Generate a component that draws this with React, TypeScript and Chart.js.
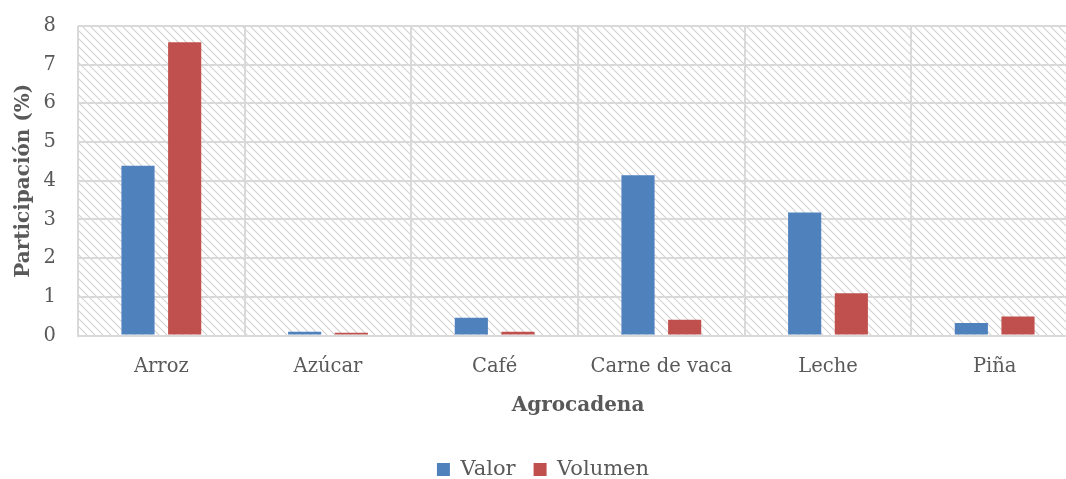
import React, { useEffect, useRef } from "react";
import { Chart, registerables } from "chart.js";

Chart.register(...registerables);

const categories = ["Arroz", "Azúcar", "Café", "Carne de vaca", "Leche", "Piña"];
const valorValues = [4.39, 0.1, 0.46, 4.14, 3.18, 0.32];
const volumenValues = [7.58, 0.07, 0.1, 0.41, 1.09, 0.49];
const seriesNames = ["Valor", "Volumen"];
const yTitle = "Participación (%)";
const xTitle = "Agrocadena";

const FONT = "'DejaVu Serif', serif";
const TEXT = "#595959";
const GRID = "#d9d9d9";

function makeHatch(): CanvasPattern | string {
  const c = document.createElement("canvas");
  c.width = 8;
  c.height = 8;
  const g = c.getContext("2d");
  if (!g) return "#fff";
  g.fillStyle = "#ffffff";
  g.fillRect(0, 0, 8, 8);
  g.strokeStyle = "#d3d3d3";
  g.lineWidth = 1.2;
  g.beginPath();
  g.moveTo(-2, -2);
  g.lineTo(10, 10);
  g.moveTo(-10, -2);
  g.lineTo(2, 10);
  g.moveTo(6, -2);
  g.lineTo(18, 10);
  g.stroke();
  const p = g.createPattern(c, "repeat");
  return p || "#fff";
}

const hatchPlugin = {
  id: "hatchBg",
  beforeDraw(chart: any) {
    const { ctx, chartArea } = chart;
    if (!chartArea) return;
    ctx.save();
    ctx.fillStyle = makeHatch();
    ctx.fillRect(chartArea.left, chartArea.top, chartArea.right - chartArea.left, chartArea.bottom - chartArea.top);
    ctx.restore();
  },
};

export default function App() {
  const ref = useRef<HTMLCanvasElement | null>(null);
  useEffect(() => {
    if (!ref.current) return;
    const chart = new Chart(ref.current, {
      type: "bar",
      data: {
        labels: categories,
        datasets: [
          {
            label: seriesNames[0],
            data: valorValues,
            backgroundColor: "#4f81bd",
            categoryPercentage: 0.56,
            barPercentage: 0.71,
          },
          {
            label: seriesNames[1],
            data: volumenValues,
            backgroundColor: "#c0504d",
            categoryPercentage: 0.56,
            barPercentage: 0.71,
          },
        ],
      },
      options: {
        responsive: false,
        animation: false,
        layout: { padding: { left: 8, top: 26, right: 10, bottom: -11 } },
        plugins: {
          tooltip: { enabled: false },
          legend: {
            position: "bottom",
            labels: {
              boxWidth: 13,
              boxHeight: 13,
              padding: 18,
              color: TEXT,
              font: { family: FONT, size: 21 },
            },
          },
        },
        scales: {
          x: {
            afterFit: (s: any) => {
              s.height = 105.5;
              s.paddingLeft = 0;
              s.paddingRight = 0;
            },
            grid: { color: GRID, lineWidth: 2, drawTicks: false, offset: true },
            border: { color: GRID, width: 2 },
            ticks: { color: TEXT, font: { family: FONT, size: 19.5 }, padding: 20, maxRotation: 0 },
            title: {
              display: true,
              text: xTitle,
              color: TEXT,
              font: { family: FONT, size: 20, weight: "bold" },
              padding: { top: 0, bottom: 23 },
            },
          },
          y: {
            min: 0,
            max: 8,
            afterFit: (s: any) => {
              s.width = 70;
              s.paddingTop = 0;
              s.paddingBottom = 0;
            },
            grid: { color: GRID, lineWidth: 2, drawTicks: false },
            border: { display: false },
            ticks: { stepSize: 1, color: TEXT, font: { family: FONT, size: 19.5 }, padding: 22 },
            title: {
              display: true,
              text: yTitle,
              color: TEXT,
              font: { family: FONT, size: 20, weight: "bold" },
              padding: { top: 4, bottom: 0 },
            },
          },
        },
      },
      plugins: [hatchPlugin],
    } as any);
    return () => chart.destroy();
  }, []);
  return (
    <div style={{ position: "fixed", left: 0, top: 0, width: 1066, height: 479, overflow: "hidden", background: "#fff" }}>
      <canvas ref={ref} width={1088} height={479} style={{ display: "block" }} />
    </div>
  );
}
